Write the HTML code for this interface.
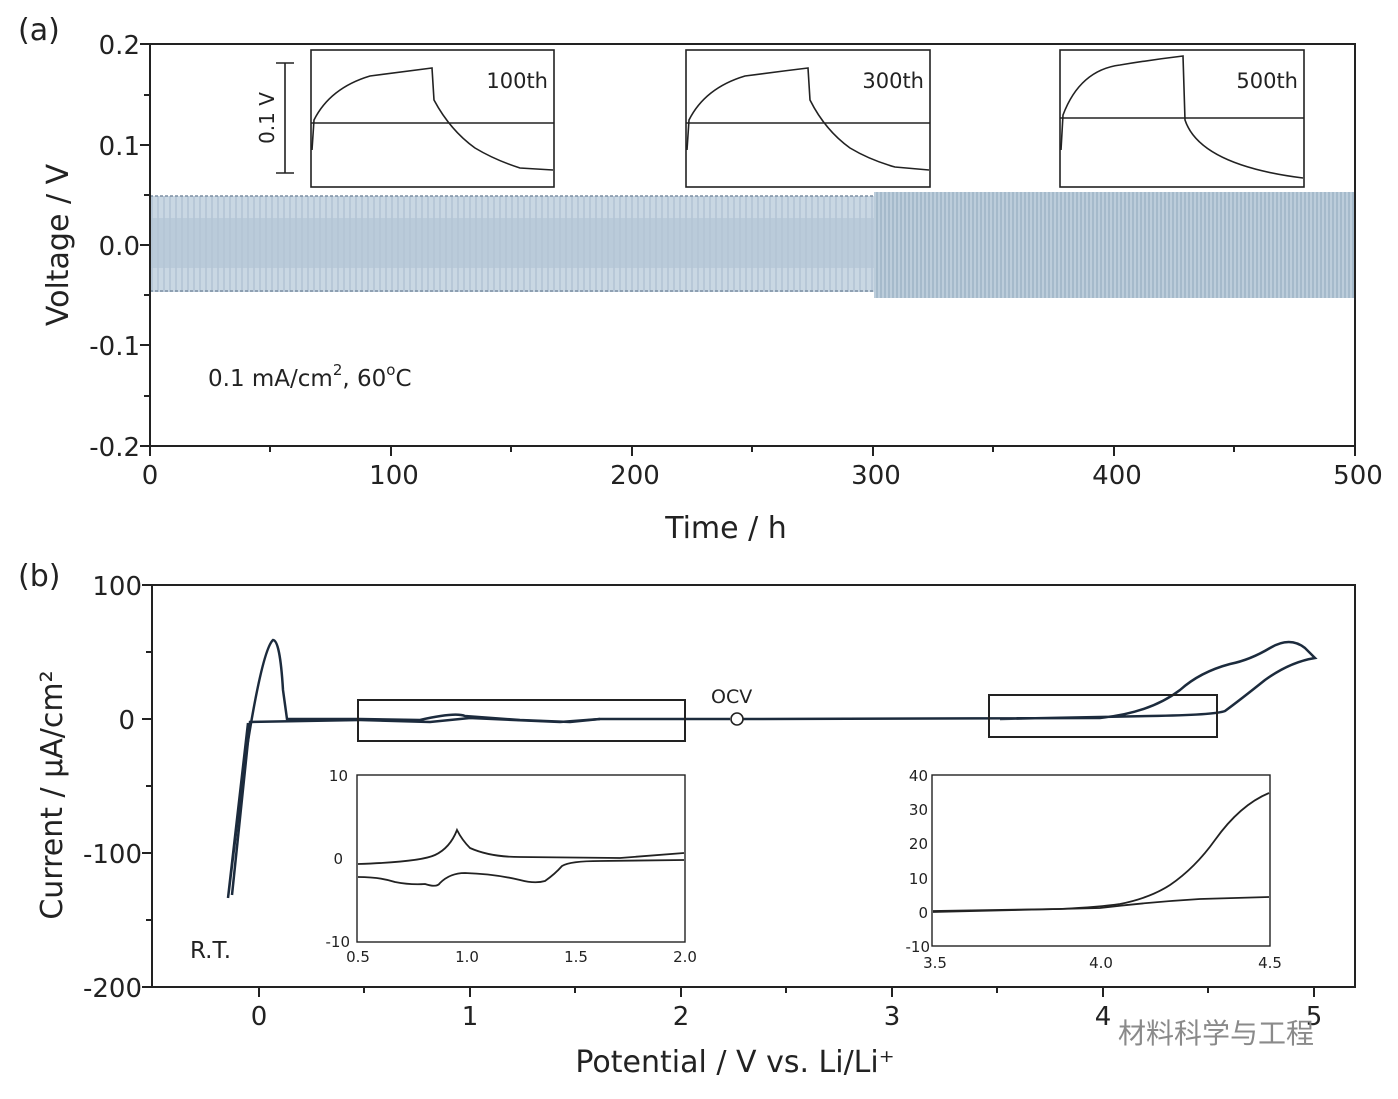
<!DOCTYPE html>
<html><head><meta charset="utf-8"><style>
body{margin:0;background:#fff;}
svg text{font-family:"DejaVu Sans","Liberation Sans",sans-serif;fill:#222;}
</style></head><body>
<svg width="1398" height="1094" viewBox="0 0 1398 1094" xmlns="http://www.w3.org/2000/svg">
<defs>
<pattern id="p1" width="6" height="200" patternUnits="userSpaceOnUse">
<rect width="6" height="200" fill="#c9d7e3"/><line x1="2" y1="0" x2="2" y2="200" stroke="#9fb3c6" stroke-width="0.8"/>
</pattern>
<pattern id="p2" width="4" height="200" patternUnits="userSpaceOnUse">
<rect width="4" height="200" fill="#bccddb"/><line x1="1" y1="0" x2="1" y2="200" stroke="#8ea6bb" stroke-width="1"/>
</pattern>
</defs>
<!-- (a) -->
<text x="18" y="40" font-size="30">(a)</text>
<rect x="150" y="196" width="724" height="96" fill="url(#p1)"/>
<rect x="150" y="218" width="724" height="50" fill="#b4c6d6" opacity="0.7"/>
<line x1="150" y1="196" x2="874" y2="196" stroke="#7d8fa3" stroke-width="1.5" stroke-dasharray="3,2"/>
<line x1="150" y1="291" x2="874" y2="291" stroke="#7d8fa3" stroke-width="1.5" stroke-dasharray="3,2"/>
<rect x="874" y="192" width="481" height="106" fill="url(#p2)"/>
<rect x="150" y="44" width="1205" height="402" fill="none" stroke="#222" stroke-width="2"/>
<g stroke="#222" stroke-width="2">
<line x1="140" y1="44" x2="150" y2="44"/><line x1="140" y1="145" x2="150" y2="145"/><line x1="140" y1="245" x2="150" y2="245"/><line x1="140" y1="345" x2="150" y2="345"/><line x1="140" y1="446" x2="150" y2="446"/>
<line x1="144" y1="95" x2="150" y2="95"/><line x1="144" y1="195" x2="150" y2="195"/><line x1="144" y1="295" x2="150" y2="295"/><line x1="144" y1="396" x2="150" y2="396"/>
<line x1="150" y1="446" x2="150" y2="456"/><line x1="391" y1="446" x2="391" y2="456"/><line x1="632" y1="446" x2="632" y2="456"/><line x1="873" y1="446" x2="873" y2="456"/><line x1="1114" y1="446" x2="1114" y2="456"/><line x1="1355" y1="446" x2="1355" y2="456"/>
<line x1="270" y1="446" x2="270" y2="452"/><line x1="511" y1="446" x2="511" y2="452"/><line x1="752" y1="446" x2="752" y2="452"/><line x1="993" y1="446" x2="993" y2="452"/><line x1="1234" y1="446" x2="1234" y2="452"/>
</g>
<g font-size="26" text-anchor="end">
<text x="140" y="54">0.2</text><text x="140" y="155">0.1</text><text x="140" y="255">0.0</text><text x="140" y="355">-0.1</text><text x="140" y="456">-0.2</text>
</g>
<g font-size="26" text-anchor="middle">
<text x="150" y="484">0</text><text x="394" y="484">100</text><text x="635" y="484">200</text><text x="876" y="484">300</text><text x="1117" y="484">400</text><text x="1358" y="484">500</text>
</g>
<text x="726" y="538" font-size="30" text-anchor="middle">Time / h</text>
<text transform="translate(68,245) rotate(-90)" font-size="30" text-anchor="middle">Voltage / V</text>
<text x="208" y="386" font-size="23">0.1 mA/cm<tspan font-size="15" dy="-11">2</tspan><tspan dy="11">, 60</tspan><tspan font-size="15" dy="-11">o</tspan><tspan dy="11">C</tspan></text>
<!-- insets a -->
<g fill="#fff" stroke="#222" stroke-width="1.6">
<rect x="311" y="50" width="243" height="137"/><rect x="686" y="50" width="244" height="137"/><rect x="1060" y="50" width="244" height="137"/>
</g>
<g stroke="#222" stroke-width="1.6" fill="none">
<line x1="311" y1="123" x2="554" y2="123"/><line x1="686" y1="123" x2="930" y2="123"/><line x1="1060" y1="118" x2="1304" y2="118"/>
<path d="M312,150 L314,120 Q330,88 370,76 Q400,72 432,68 L434,100 Q450,130 475,148 Q495,160 520,168 L553,170"/>
<path d="M687,150 L689,120 Q705,88 745,76 Q775,72 808,68 L810,100 Q825,130 850,148 Q870,160 895,167 L929,170"/>
<path d="M1061,150 L1063,115 Q1080,70 1120,65 Q1150,60 1183,56 L1185,120 Q1200,165 1303,178"/>
<line x1="285" y1="63" x2="285" y2="173"/><line x1="276" y1="63" x2="294" y2="63"/><line x1="276" y1="173" x2="294" y2="173"/>
</g>
<text transform="translate(274,118) rotate(-90)" font-size="20" text-anchor="middle">0.1 V</text>
<g font-size="21" text-anchor="end"><text x="548" y="88">100th</text><text x="924" y="88">300th</text><text x="1298" y="88">500th</text></g>

<!-- (b) -->
<text x="18" y="586" font-size="30">(b)</text>
<rect x="152" y="585" width="1203" height="402" fill="none" stroke="#222" stroke-width="2"/>
<g stroke="#222" stroke-width="2">
<line x1="142" y1="585" x2="152" y2="585"/><line x1="142" y1="719" x2="152" y2="719"/><line x1="142" y1="853" x2="152" y2="853"/><line x1="142" y1="987" x2="152" y2="987"/>
<line x1="146" y1="652" x2="152" y2="652"/><line x1="146" y1="786" x2="152" y2="786"/><line x1="146" y1="920" x2="152" y2="920"/>
<line x1="259" y1="987" x2="259" y2="997"/><line x1="470" y1="987" x2="470" y2="997"/><line x1="681" y1="987" x2="681" y2="997"/><line x1="892" y1="987" x2="892" y2="997"/><line x1="1103" y1="987" x2="1103" y2="997"/><line x1="1314" y1="987" x2="1314" y2="997"/>
<line x1="364" y1="987" x2="364" y2="993"/><line x1="575" y1="987" x2="575" y2="993"/><line x1="786" y1="987" x2="786" y2="993"/><line x1="997" y1="987" x2="997" y2="993"/><line x1="1208" y1="987" x2="1208" y2="993"/>
</g>
<g font-size="26" text-anchor="end"><text x="142" y="595">100</text><text x="135" y="729">0</text><text x="142" y="863">-100</text><text x="142" y="997">-200</text></g>
<g font-size="26" text-anchor="middle"><text x="259" y="1025">0</text><text x="470" y="1025">1</text><text x="681" y="1025">2</text><text x="892" y="1025">3</text><text x="1103" y="1025">4</text><text x="1314" y="1025">5</text></g>
<text x="735" y="1072" font-size="30" text-anchor="middle">Potential / V vs. Li/Li⁺</text>
<text transform="translate(62,795) rotate(-90)" font-size="30" text-anchor="middle">Current / μA/cm²</text>
<text x="190" y="958" font-size="23">R.T.</text>
<text x="711" y="703" font-size="19">OCV</text>
<g fill="none" stroke="#1c2b3d" stroke-width="2.5">
<path d="M248,723 L228,898 L245,760 Q262,650 273,640 Q280,640 283,690 L287,719 L360,719"/>
<path d="M232,895 L250,722 L360,720"/>
<path d="M360,719 L420,720 Q455,712 465,716 L520,720 L570,722 L600,719 L730,719"/>
<path d="M360,720 L430,722 L470,718 L560,722 L600,719"/>
<path d="M742,719 L1100,718 Q1150,713 1180,690 Q1200,672 1230,664 Q1250,660 1270,648 Q1290,636 1305,648 L1315,658 Q1290,662 1265,680 Q1240,700 1225,711 Q1215,715 1150,716 L1000,719"/>
</g>
<circle cx="737" cy="719" r="6" fill="#fff" stroke="#222" stroke-width="1.6"/>
<g fill="none" stroke="#222" stroke-width="2">
<rect x="358" y="700" width="327" height="41"/><rect x="989" y="695" width="228" height="42"/>
</g>
<!-- inset b1 -->
<rect x="357" y="775" width="328" height="167" fill="#fff" stroke="#222" stroke-width="1.4"/>
<g fill="none" stroke="#222" stroke-width="1.8">
<path d="M358,864 Q420,862 435,855 Q450,848 457,830 Q462,840 470,848 Q490,857 520,857 L620,858 L684,853"/>
<path d="M358,877 Q380,877 395,882 Q410,885 425,884 Q437,888 440,883 Q450,873 465,873 Q495,874 520,880 Q535,884 545,881 Q555,874 562,866 Q570,861 600,861 L684,860"/>
</g>
<g font-size="15" text-anchor="end"><text x="348" y="781">10</text><text x="343" y="864">0</text><text x="350" y="947">-10</text></g>
<g font-size="15" text-anchor="middle"><text x="358" y="962">0.5</text><text x="467" y="962">1.0</text><text x="576" y="962">1.5</text><text x="685" y="962">2.0</text></g>
<!-- inset b2 -->
<rect x="932" y="775" width="338" height="171" fill="#fff" stroke="#222" stroke-width="1.4"/>
<g fill="none" stroke="#222" stroke-width="1.8">
<path d="M933,911 L1060,909 Q1100,907 1120,904 Q1150,898 1170,885 Q1195,868 1215,840 Q1240,805 1269,793"/>
<path d="M933,912 L1100,908 Q1150,902 1200,899 L1269,897"/>
</g>
<g font-size="15" text-anchor="end"><text x="928" y="781">40</text><text x="928" y="815">30</text><text x="928" y="849">20</text><text x="928" y="884">10</text><text x="928" y="918">0</text><text x="930" y="952">-10</text></g>
<g font-size="15" text-anchor="middle"><text x="935" y="968">3.5</text><text x="1101" y="968">4.0</text><text x="1270" y="968">4.5</text></g>
<text x="1118" y="1043" font-size="28" style="fill:#8a8a8a;font-family:'Noto Sans CJK SC',sans-serif">材料科学与工程</text>
</svg>
</body></html>
